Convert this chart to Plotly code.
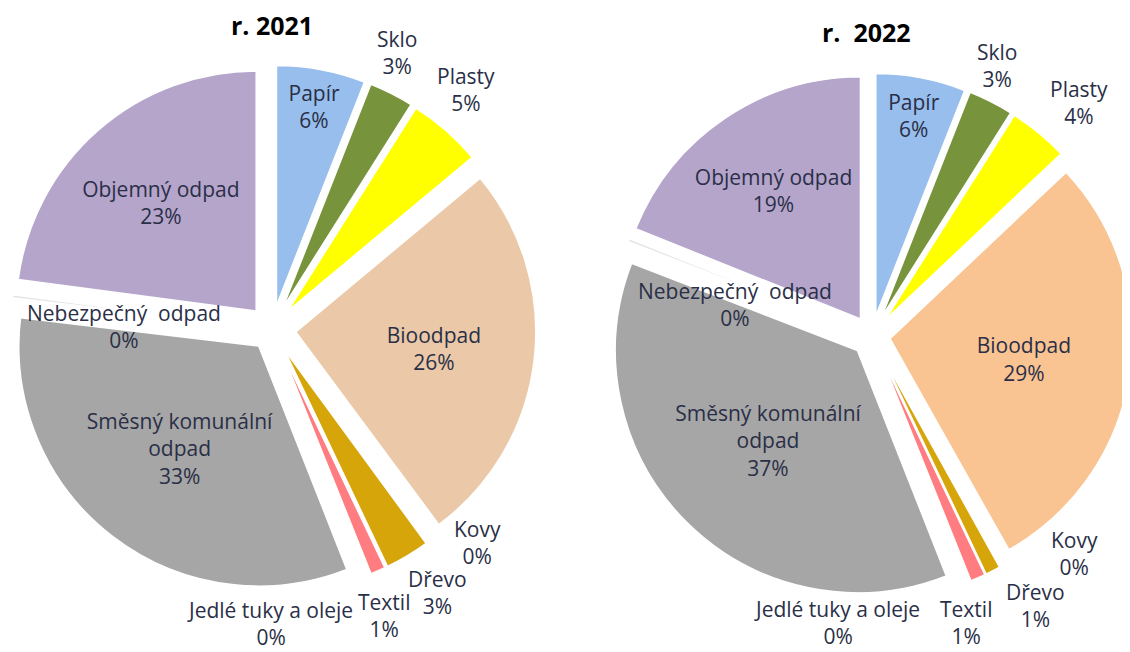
import plotly.graph_objects as go

# ---- data ----
categories = ["Papír", "Sklo", "Plasty", "Bioodpad", "Kovy", "Dřevo", "Textil",
              "Jedlé tuky a oleje", "Směsný komunální odpad", "Nebezpečný odpad",
              "Objemný odpad"]
display_names = ["Papír", "Sklo", "Plasty", "Bioodpad", "Kovy", "Dřevo", "Textil",
                 "Jedlé tuky a oleje", "Směsný komunální<br>odpad", "Nebezpečný  odpad",
                 "Objemný odpad"]
values_2021 = [6, 3, 5, 26, 0.1, 3, 1, 0.1, 33, 0.2, 23]
values_2022 = [6, 3, 4, 29, 0.1, 1, 1, 0.1, 37, 0.2, 19]
titles = ["r. 2021", "r.  2022"]

# ---- styling ----
colors_2021 = ["#97BEEC", "#77933C", "#FFFF00", "#EBC9A8", "#E6E6E6", "#D6A50A",
               "#FF7C80", "#FFC000", "#A6A6A6", "#E3E3E3", "#B5A5CB"]
colors_2022 = ["#97BEEC", "#77933C", "#FFFF00", "#FAC392", "#E6E6E6", "#D6A50A",
               "#FF7C80", "#FFC000", "#A6A6A6", "#E3E3E3", "#B5A5CB"]
pull_2021 = [0.1, 0.1, 0.1, 0.1, 0.1, 0.1, 0.1, 0.1, 0.09, 0.09, 0.1]
pull_2022 = [0.085, 0.085, 0.085, 0.075, 0.09, 0.09, 0.09, 0.09, 0.085, 0.08, 0.085]
inside_label = [True, False, False, True, False, False, False, False, True, False, True]

W, H = 1130, 652
OFF = 8  # page body margin of the rendered html

# outside-label anchor points (screen px) for the small slices
label_pos_2021 = {"Sklo": (397, 52), "Plasty": (466, 90), "Kovy": (477, 542),
                  "Dřevo": (437, 592), "Textil": (384, 615),
                  "Jedlé tuky a oleje": (270, 623), "Nebezpečný odpad": (124, 326)}
label_pos_2022 = {"Sklo": (997, 65), "Plasty": (1079, 102), "Kovy": (1074, 553),
                  "Dřevo": (1035, 605), "Textil": (966, 622),
                  "Jedlé tuky a oleje": (837, 622), "Nebezpečný odpad": (735, 305)}

FONT = "Open Sans"
TXT = "#2A2F47"
FS = 21

fig = go.Figure()


def px_domain(x0, x1, y0, y1):
    """screen-pixel box -> paper domain (after removing page offset)"""
    return ([max(0, (x0 - OFF) / W), min(1, (x1 - OFF) / W)],
            [max(0, 1 - (y1 - OFF) / H), min(1, 1 - (y0 - OFF) / H)])


def add_pie(values, colors, pulls, box, name):
    dx, dy = px_domain(*box)
    fig.add_trace(go.Pie(
        labels=categories, values=values, text=display_names,
        texttemplate="%{text}<br>%{percent:.0%}",
        textposition=["inside" if f else "none" for f in inside_label],
        insidetextorientation="horizontal",
        insidetextfont=dict(family=FONT, size=FS, color=TXT),
        marker=dict(colors=colors, line=dict(color="white", width=1.5)),
        pull=pulls, sort=False, direction="clockwise", rotation=0,
        domain=dict(x=dx, y=dy), showlegend=False, name=name,
        hoverinfo="label+percent",
    ))


# pie boxes in screen px: (left, right, top, bottom)
add_pie(values_2021, colors_2021, pull_2021, (8, 536, 65, 593), "2021")
add_pie(values_2022, colors_2022, pull_2022, (608, 1136, 72, 600), "2022")

annotations = []
for vals, pos in ((values_2021, label_pos_2021), (values_2022, label_pos_2022)):
    total = sum(vals)
    for cat, v, dn in zip(categories, vals, display_names):
        if cat in pos:
            x, y = pos[cat]
            annotations.append(dict(
                x=(x - OFF) / W, y=1 - (y - OFF) / H, xref="paper", yref="paper",
                text=f"{dn}<br>{round(v / total * 100)}%", showarrow=False,
                font=dict(family=FONT, size=FS, color=TXT),
                xanchor="center", yanchor="middle"))

for t, (x, y) in zip(titles, [(272, 25), (866, 32)]):
    annotations.append(dict(x=(x - OFF) / W, y=1 - (y - OFF) / H, xref="paper",
                            yref="paper", text=f"<b>{t}</b>", showarrow=False,
                            font=dict(family=FONT, size=25, color="black"),
                            xanchor="center", yanchor="middle"))

fig.update_layout(width=W, height=H, margin=dict(l=0, r=0, t=0, b=0),
                  paper_bgcolor="white", plot_bgcolor="white",
                  annotations=annotations)

fig.write_html("out.html")
